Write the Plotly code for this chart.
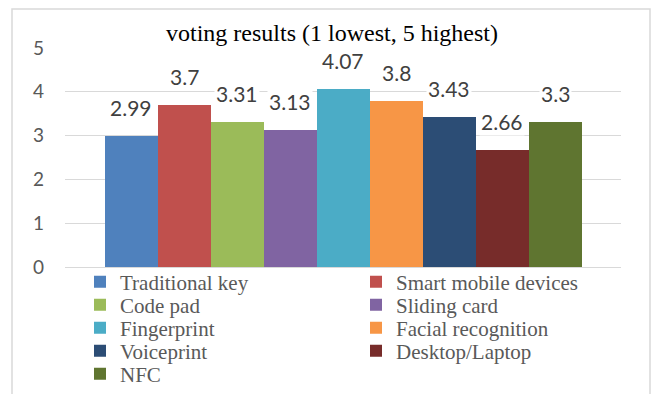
import plotly.graph_objects as go

categories = ["Traditional key", "Smart mobile devices", "Code pad", "Sliding card",
              "Fingerprint", "Facial recognition", "Voiceprint", "Desktop/Laptop", "NFC"]
values = [2.99, 3.7, 3.31, 3.13, 4.07, 3.8, 3.43, 2.66, 3.3]
colors = ["#4F81BD", "#C0504D", "#9BBB59", "#8064A2", "#4BACC6",
          "#F79646", "#2C4D75", "#772C2A", "#5F7530"]
y_ticks = [0, 1, 2, 3, 4, 5]

W, H = 654, 394
L, R, T, B = 65, 33, 48, 127
pw, ph = W - L - R, H - T - B
SERIF = "Liberation Serif, Times New Roman, serif"


def px_x(p):
    return (p - L) / pw


def px_y(p):
    return (H - B - p) / ph


# legend laid out in rows of two entries (one legend per row)
row_centers = [282, 305, 328, 351, 374]
legend_ids = []
for k in range(len(categories)):
    r = k // 2
    legend_ids.append("legend" if r == 0 else f"legend{r + 1}")

fig = go.Figure()
for i, (name, v, c) in enumerate(zip(categories, values, colors)):
    fig.add_trace(go.Bar(x=[i], y=[v], name=name, marker=dict(color=c, line=dict(width=0)),
                         legend=legend_ids[i], hoverinfo="name+y"))

annotations = []
for i, v in enumerate(values):
    annotations.append(dict(x=i, y=v, xref="x", yref="y", text=str(v), showarrow=False,
                            yanchor="bottom", yshift=14, bgcolor="white", borderpad=1,
                            font=dict(family="Lato", size=21, color="#404040")))

bar_px = 53.0
half_span = pw / bar_px / 2
center = (len(values) - 1) / 2

shapes = [dict(type="rect", xref="paper", yref="paper",
               x0=px_x(12), x1=px_x(650), y0=px_y(420), y1=px_y(9),
               line=dict(color="#D9D9D9", width=1.5), fillcolor="rgba(0,0,0,0)", layer="below")]

legend_style = dict(orientation="h", xanchor="left", yanchor="middle",
                    entrywidth=231, entrywidthmode="pixels", traceorder="normal",
                    font=dict(family=SERIF, size=21, color="#595959"),
                    bgcolor="rgba(0,0,0,0)", borderwidth=0)
legends = {}
for r, yc in enumerate(row_centers):
    key = "legend" if r == 0 else f"legend{r + 1}"
    legends[key] = dict(legend_style, x=px_x(80), y=px_y(yc))

fig.update_layout(
    width=W, height=H,
    font=dict(family=SERIF, color="#595959"),
    margin=dict(l=L, r=R, t=T, b=B, autoexpand=False),
    paper_bgcolor="white", plot_bgcolor="white",
    barmode="overlay", bargap=0,
    title=dict(text="voting results (1 lowest, 5 highest)", x=px_x(332), xref="paper",
               xanchor="center", y=1 - 33 / H, yref="container", yanchor="middle",
               font=dict(family=SERIF, size=24, color="#000000")),
    xaxis=dict(range=[center - half_span, center + half_span], showticklabels=False,
               showgrid=False, zeroline=False, showline=False, ticks=""),
    yaxis=dict(range=[0, 5], tickvals=y_ticks, showgrid=True, gridcolor="#D9D9D9", gridwidth=1,
               zeroline=True, zerolinecolor="#D9D9D9", zerolinewidth=1, showline=False,
               ticks="", ticklabelstandoff=20,
               tickfont=dict(family="Lato", size=19, color="#595959")),
    showlegend=True,
    annotations=annotations,
    shapes=shapes,
    **legends,
)

fig.write_html("out.html")
